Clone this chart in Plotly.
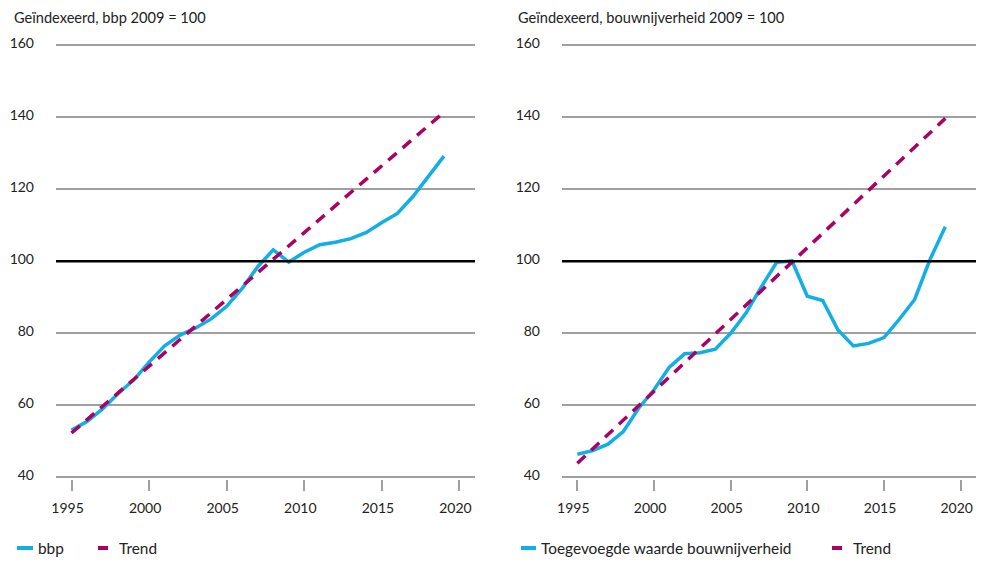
import plotly.graph_objects as go

years = list(range(1995, 2020))
bbp = [53.1, 55.5, 59.0, 63.3, 67.0, 72.0, 76.5, 79.5, 81.5, 84.0, 87.5, 92.5, 98.5,
       103.2, 99.8, 102.5, 104.6, 105.3, 106.3, 108.0, 110.8, 113.3, 118.0, 123.5, 129.2]
bbp_trend_years = [1995, 2019]
bbp_trend = [52.3, 141.4]

bouw = [46.4, 47.4, 49.2, 52.7, 59.2, 64.3, 70.6, 74.3, 74.6, 75.6, 80.0, 85.6, 92.9,
        99.7, 100.1, 90.3, 89.1, 80.9, 76.5, 77.2, 78.8, 83.9, 89.4, 100.5, 109.6]
bouw_trend_years = [1995, 2019]
bouw_trend = [43.9, 139.7]

y_ticks = [40, 60, 80, 100, 120, 140, 160]
x_ticks = [1995, 2000, 2005, 2010, 2015, 2020]

titles = ["Geïndexeerd, bbp 2009 = 100", "Geïndexeerd, bouwnijverheid 2009 = 100"]
legend_left = ["bbp", "Trend"]
legend_right = ["Toegevoegde waarde bouwnijverheid", "Trend"]

BLUE = "#12aee6"
MAG = "#ab0064"
GRID = "#a0a0a0"
TXT = "#222222"
FONT = "Lato"

W, H = 968.0, 549.0
OFF = 8.0  # page body margin offset


def px(X):
    return (X - OFF) / W


def py(Y):
    return 1 - (Y - OFF) / H


fig = go.Figure()
fig.add_trace(go.Scatter(x=years, y=bbp, mode="lines", line=dict(color=BLUE, width=3.5),
                         xaxis="x", yaxis="y", showlegend=False))
fig.add_trace(go.Scatter(x=bbp_trend_years, y=bbp_trend, mode="lines",
                         line=dict(color=MAG, width=3.5, dash="11px,8px"),
                         xaxis="x", yaxis="y", showlegend=False))
fig.add_trace(go.Scatter(x=years, y=bouw, mode="lines", line=dict(color=BLUE, width=3.5),
                         xaxis="x2", yaxis="y2", showlegend=False))
fig.add_trace(go.Scatter(x=bouw_trend_years, y=bouw_trend, mode="lines",
                         line=dict(color=MAG, width=3.5, dash="11px,8px"),
                         xaxis="x2", yaxis="y2", showlegend=False))

# 160 -> Y=45.3, 40 -> Y=477.3 ; 3.6 px per unit ; pad 0.5 unit
ydom = [py(477.3 + 1.8), py(45.3 - 1.8)]

xa = dict(range=[1994, 2021], tickvals=x_ticks, ticks="outside", ticklen=11, tickwidth=1.5,
          tickcolor=GRID, showgrid=False, zeroline=False, showline=False, automargin=False,
          tickfont=dict(family=FONT, size=14, color=TXT), ticklabelstandoff=5,
          ticklabelshift=-4)
ya = dict(range=[39.5, 160.5], tickvals=y_ticks, showgrid=True, gridcolor=GRID, gridwidth=1.5,
          zeroline=False, showline=False, domain=ydom, automargin=False,
          tickfont=dict(family=FONT, size=14, color=TXT), ticklabelstandoff=21,
          ticklabelshift=-2)

fig.update_layout(
    width=W, height=H, margin=dict(l=0, r=0, t=0, b=0, autoexpand=False),
    paper_bgcolor="white", plot_bgcolor="white",
    xaxis=dict(xa, domain=[px(56), px(475)], anchor="y"),
    yaxis=dict(ya, anchor="x"),
    xaxis2=dict(xa, domain=[px(562), 1.0], anchor="y2"),
    yaxis2=dict(ya, anchor="x2"),
)

shapes = []
annotations = []
for xr, yr in [("x", "y"), ("x2", "y2")]:
    shapes.append(dict(type="line", xref=xr + " domain", yref=yr, x0=0, x1=1, y0=100, y1=100,
                       line=dict(color="#000000", width=2.5), layer="above"))

# titles
for t, tx in zip(titles, [12, 516]):
    annotations.append(dict(text=t, x=px(tx), y=py(18), xref="paper", yref="paper",
                            xanchor="left", yanchor="middle", showarrow=False,
                            font=dict(family=FONT, size=14.6, color=TXT)))

# legends
ly = py(548)


def leg_item(x0, x1, color, label, tx):
    shapes.append(dict(type="line", xref="paper", yref="paper", x0=px(x0), x1=px(x1),
                       y0=ly, y1=ly, line=dict(color=color, width=4)))
    annotations.append(dict(text=label, x=px(tx), y=ly, xref="paper", yref="paper",
                            xanchor="left", yanchor="middle", showarrow=False,
                            font=dict(family=FONT, size=15.4, color=TXT)))


leg_item(17, 33, BLUE, legend_left[0], 36)
leg_item(98, 108, MAG, legend_left[1], 117)
leg_item(521, 536, BLUE, legend_right[0], 539)
leg_item(832, 842, MAG, legend_right[1], 851)

fig.update_layout(shapes=shapes, annotations=annotations)
fig.write_html("out.html")
